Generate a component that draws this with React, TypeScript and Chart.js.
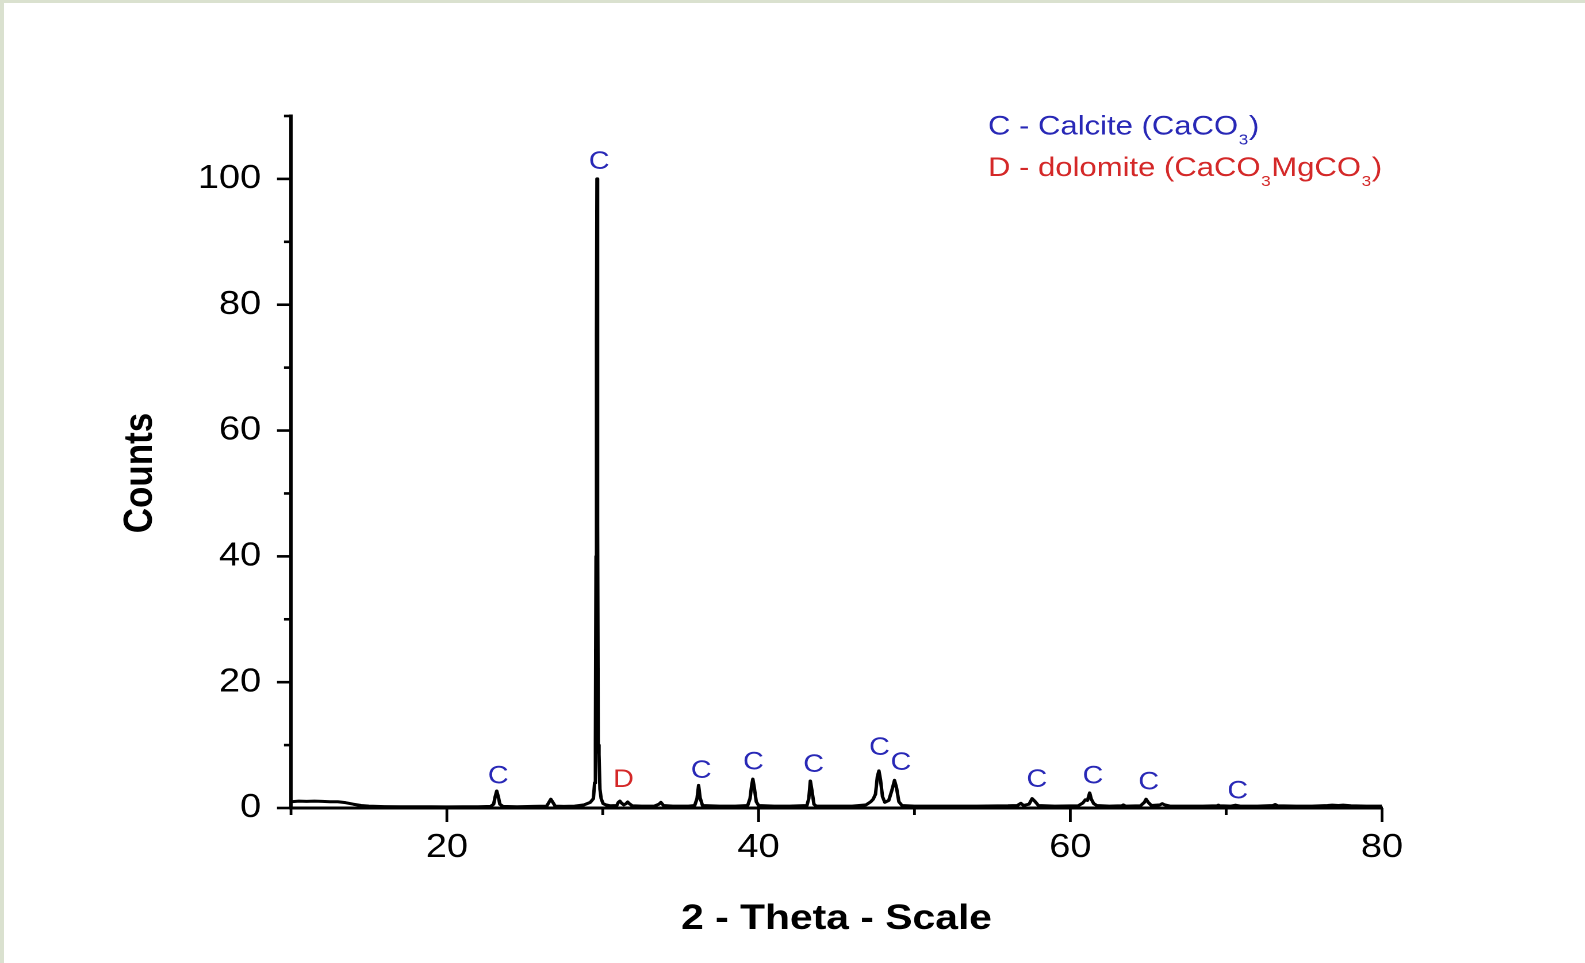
import React, { useEffect, useRef } from "react";
import { Chart, registerables } from "chart.js";

Chart.register(...registerables);

// ---- data ----
const TWO_THETA: number[] = [
  10.0, 10.5, 11.0, 11.5, 12.0, 12.5, 13.0, 13.5, 14.0, 14.5, 15.0, 15.5, 16.0, 17.0, 18.0, 19.0, 20.0, 21.0, 22.0,
  22.8, 23.0, 23.1, 23.2, 23.3, 23.4, 23.6, 24.5, 25.5, 26.4, 26.55, 26.67, 26.8, 26.95, 27.5, 28.2, 28.8, 29.2,
  29.4, 29.48, 29.53, 29.57, 29.6, 29.63, 29.67, 29.71, 29.76, 29.82, 29.9, 30.02, 30.2, 30.5, 30.9, 31.0, 31.1,
  31.2, 31.35, 31.5, 31.6, 31.7, 31.9, 32.5, 33.3, 33.6, 33.73, 33.9, 34.5, 35.5, 35.9, 36.05, 36.15, 36.25, 36.4,
  37.5, 38.5, 39.3, 39.45, 39.55, 39.63, 39.72, 39.85, 40.0, 41.0, 42.0, 43.1, 43.22, 43.32, 43.42, 43.55, 43.7,
  45.0, 46.0, 46.9, 47.2, 47.35, 47.5, 47.62, 47.72, 47.82, 47.95, 48.1, 48.35, 48.55, 48.72, 48.85, 49.0, 49.2,
  50.0, 52.0, 54.0, 56.0, 56.6, 56.83, 57.0, 57.35, 57.55, 57.75, 57.95, 59.0, 60.5, 60.8, 60.96, 61.1, 61.24,
  61.35, 61.5, 61.7, 62.5, 63.3, 63.4, 63.55, 64.5, 64.75, 64.86, 65.0, 65.2, 65.75, 65.9, 66.05, 66.4, 67.5,
  68.5, 69.4, 69.5, 69.6, 70.3, 70.6, 70.9, 72.0, 73.0, 73.15, 73.3, 74.5, 75.5, 76.5, 76.8, 77.2, 77.5, 78.0,
  79.0, 80.0,
];
const COUNTS: number[] = [
  1.0, 1.1, 1.05, 1.1, 1.05, 1.0, 1.0, 0.85, 0.6, 0.4, 0.3, 0.25, 0.22, 0.2, 0.2, 0.2, 0.18, 0.2, 0.2,
  0.25, 0.6, 1.8, 2.7, 1.8, 0.6, 0.25, 0.2, 0.25, 0.3, 0.9, 1.4, 0.9, 0.3, 0.25, 0.3, 0.5, 0.9,
  1.5, 4.0, 10.0, 40.0, 75.0, 100.0, 45.0, 10.0, 8.5, 3.0, 1.5, 0.7, 0.5, 0.35, 0.4, 0.9, 1.1,
  0.8, 0.5, 0.7, 0.95, 0.7, 0.35, 0.3, 0.3, 0.6, 0.9, 0.4, 0.3, 0.3, 0.4, 1.5, 3.6, 1.6, 0.4,
  0.3, 0.3, 0.4, 1.5, 3.5, 4.6, 3.3, 1.0, 0.4, 0.3, 0.3, 0.4, 1.5, 4.3, 2.8, 0.6, 0.3,
  0.3, 0.3, 0.5, 1.0, 1.4, 2.2, 5.0, 5.9, 4.5, 1.8, 0.9, 1.2, 2.8, 4.4, 3.2, 1.0, 0.4,
  0.3, 0.3, 0.3, 0.35, 0.4, 0.75, 0.4, 0.6, 1.5, 1.0, 0.4, 0.3, 0.35, 0.8, 1.3, 1.2, 2.4,
  1.4, 0.7, 0.4, 0.3, 0.35, 0.5, 0.3, 0.35, 0.9, 1.4, 0.9, 0.4, 0.5, 0.7, 0.5, 0.3, 0.3,
  0.3, 0.35, 0.45, 0.35, 0.3, 0.45, 0.3, 0.3, 0.4, 0.55, 0.35, 0.3, 0.3, 0.4, 0.45, 0.4, 0.45, 0.35,
  0.3, 0.3,
];

const X_MAJOR_TICKS = [20, 40, 60, 80];
const X_MINOR_TICKS = [10, 30, 50, 70];
const Y_MAJOR_TICKS = [0, 20, 40, 60, 80, 100];
const Y_MINOR_TICKS = [10, 30, 50, 70, 90, 110];

const PEAK_LABEL_TEXT = ["C", "C", "D", "C", "C", "C", "C", "C", "C", "C", "C", "C"];
const PEAK_LABEL_X = [23.3, 29.77, 31.33, 36.32, 39.67, 43.53, 47.76, 49.13, 57.86, 61.45, 65.03, 70.74];
const PEAK_LABEL_Y = [5.0, 102.7, 4.4, 5.9, 7.2, 6.8, 9.5, 7.1, 4.4, 5.0, 4.0, 2.6];

// legend lines: [text, isSubscript]
const LEGEND_CALCITE: [string, boolean][] = [["C - Calcite (CaCO", false], ["3", true], [")", false]];
const LEGEND_DOLOMITE: [string, boolean][] = [
  ["D - dolomite (CaCO", false], ["3", true], ["MgCO", false], ["3", true], [")", false],
];

const X_TITLE = "2 - Theta - Scale";
const Y_TITLE = "Counts";

// ---- styles ----
const BLUE = "#2828b6";
const RED = "#d42828";
const FONT = "'Liberation Sans', Arial, sans-serif";
const STRETCH = 1.15;
const W = 1585 / STRETCH;
const H = 963;

const labelColor = (t: string) => (t === "D" ? RED : BLUE);

const decorPlugin = {
  id: "decor",
  afterDraw(chart: any) {
    const { ctx, chartArea, scales } = chart;
    const x = scales.x;
    const y = scales.y;
    ctx.save();
    ctx.strokeStyle = "#000";
    ctx.lineCap = "butt";
    // x tick marks
    ctx.lineWidth = 2.4;
    const drawX = (vals: number[], len: number) => {
      vals.forEach((v) => {
        const px = x.getPixelForValue(v);
        ctx.beginPath();
        ctx.moveTo(px, chartArea.bottom);
        ctx.lineTo(px, chartArea.bottom + len);
        ctx.stroke();
      });
    };
    drawX(X_MAJOR_TICKS, 14);
    drawX(X_MINOR_TICKS, 7);
    // y tick marks
    ctx.lineWidth = 2.6;
    const drawY = (vals: number[], len: number) => {
      vals.forEach((v) => {
        const py = y.getPixelForValue(v);
        ctx.beginPath();
        ctx.moveTo(chartArea.left, py);
        ctx.lineTo(chartArea.left - len, py);
        ctx.stroke();
      });
    };
    drawY(Y_MAJOR_TICKS, 12.2);
    drawY(Y_MINOR_TICKS, 6.1);

    // y axis title
    ctx.save();
    ctx.translate(140.5 / STRETCH, 473);
    ctx.rotate(-Math.PI / 2);
    ctx.font = `bold 35px ${FONT}`;
    ctx.fillStyle = "#000";
    ctx.textAlign = "center";
    ctx.textBaseline = "middle";
    ctx.fillText(Y_TITLE, 0, 0);
    ctx.restore();

    // peak labels
    ctx.font = `25px ${FONT}`;
    ctx.textAlign = "center";
    ctx.textBaseline = "middle";
    PEAK_LABEL_TEXT.forEach((t, i) => {
      ctx.fillStyle = labelColor(t);
      ctx.fillText(t, x.getPixelForValue(PEAK_LABEL_X[i]), y.getPixelForValue(PEAK_LABEL_Y[i]));
    });

    // legend
    const drawLegendLine = (segs: [string, boolean][], color: string, left: number, cy: number) => {
      let cx = left;
      ctx.fillStyle = color;
      ctx.textAlign = "left";
      ctx.textBaseline = "middle";
      segs.forEach(([s, sub]) => {
        ctx.font = sub ? `15px ${FONT}` : `27px ${FONT}`;
        const dy = sub ? 13.5 : 0;
        ctx.fillText(s, cx + (sub ? 0.5 : 0), cy + dy);
        cx += ctx.measureText(s).width + (sub ? 1 : 0);
      });
    };
    drawLegendLine(LEGEND_CALCITE, BLUE, 988 / STRETCH, 127);
    drawLegendLine(LEGEND_DOLOMITE, RED, 988 / STRETCH, 168.5);
    ctx.restore();
  },
};

export default function App() {
  const canvasRef = useRef<HTMLCanvasElement | null>(null);

  useEffect(() => {
    if (!canvasRef.current) return;
    const points = TWO_THETA.map((t, i) => ({ x: t, y: COUNTS[i] }));
    const chart = new Chart(canvasRef.current, {
      type: "line",
      data: {
        datasets: [
          {
            data: points,
            borderColor: "#000",
            borderWidth: 3,
            pointRadius: 0,
            tension: 0,
            fill: false,
            borderJoinStyle: "round",
          },
        ],
      },
      plugins: [decorPlugin],
      options: {
        animation: false,
        responsive: true,
        maintainAspectRatio: false,
        devicePixelRatio: 2,
        layout: { padding: { left: 0, right: W - 1382 / STRETCH, top: 116, bottom: 0 } },
        plugins: { legend: { display: false }, tooltip: { enabled: false } },
        scales: {
          x: {
            type: "linear",
            min: 10,
            max: 80,
            afterBuildTicks: (s: any) => {
              s.ticks = X_MAJOR_TICKS.map((v) => ({ value: v }));
            },
            afterFit: (s: any) => {
              s.height = H - 808;
            },
            grid: { display: false, drawTicks: true, tickLength: 14 },
            border: { display: true, color: "#000", width: 3 },
            ticks: { color: "#000", padding: 6.2, maxRotation: 0, font: { family: FONT, size: 33 } },
            title: {
              display: true,
              text: X_TITLE,
              color: "#000",
              padding: { top: 0, bottom: 22.7 },
              font: { family: FONT, size: 35.5, weight: "bold" },
            },
          },
          y: {
            type: "linear",
            min: 0,
            max: 110,
            afterBuildTicks: (s: any) => {
              s.ticks = Y_MAJOR_TICKS.map((v) => ({ value: v }));
            },
            afterFit: (s: any) => {
              s.width = 291 / STRETCH;
            },
            grid: { display: false, drawTicks: true, tickLength: 12 },
            border: { display: true, color: "#000", width: 3 },
            ticks: { color: "#000", padding: 14, font: { family: FONT, size: 33 } },
            title: { display: false },
          },
        },
      },
    } as any);
    return () => chart.destroy();
  }, []);

  return (
    <div style={{ position: "fixed", left: 0, top: 0, width: 1585, height: 963, background: "#dae1cf", overflow: "hidden" }}>
      <div style={{ position: "absolute", left: 4, top: 3, right: 0, bottom: 0, background: "#ffffff" }} />
      <div
        style={{
          position: "absolute",
          left: 0,
          top: 0,
          width: W,
          height: H,
          transform: `scaleX(${STRETCH})`,
          transformOrigin: "0 0",
        }}
      >
        <canvas ref={canvasRef} />
      </div>
    </div>
  );
}
